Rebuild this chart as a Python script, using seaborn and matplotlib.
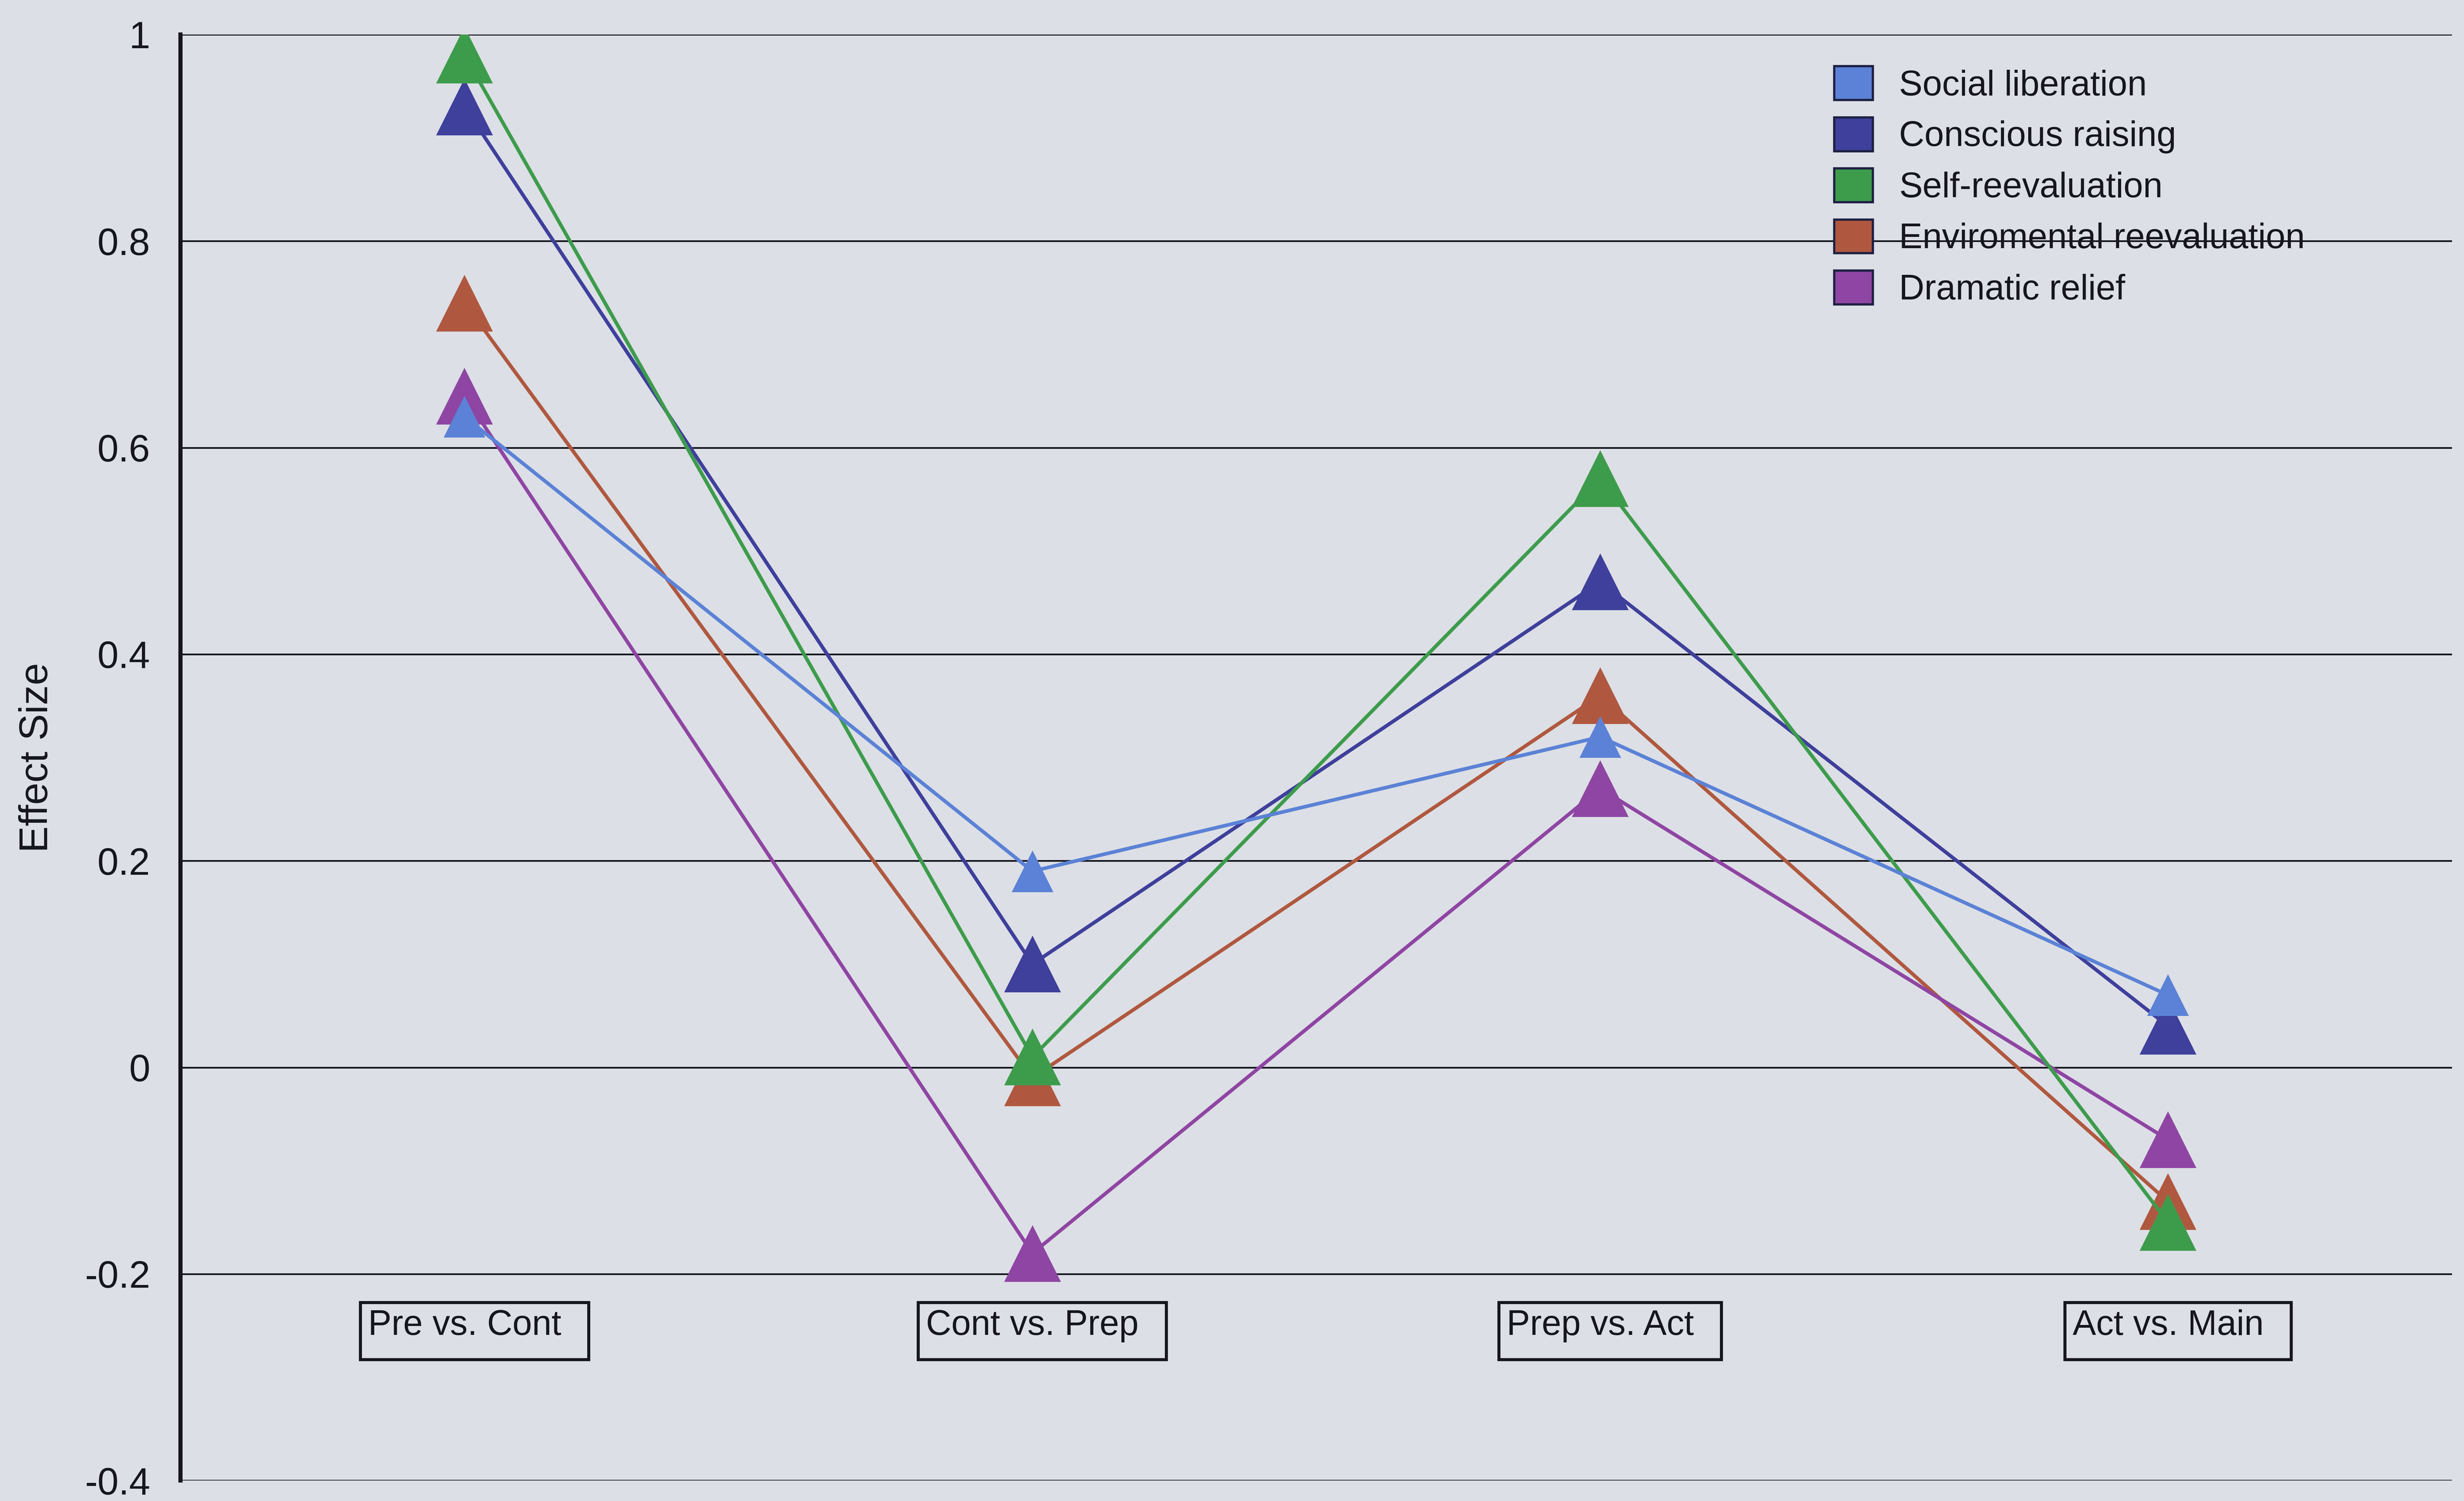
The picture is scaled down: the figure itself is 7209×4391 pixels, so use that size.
import matplotlib
matplotlib.use("Agg")
import matplotlib.pyplot as plt
from matplotlib.patches import Patch, Rectangle
import seaborn as sns
import pandas as pd

# ---- data -------------------------------------------------------------
stages = ["Pre vs. Cont", "Cont vs. Prep", "Prep vs. Act", "Act vs. Main"]

social_liberation = [0.63, 0.19, 0.32, 0.07]
conscious_raising = [0.93, 0.10, 0.47, 0.04]
self_reevaluation = [0.98, 0.01, 0.57, -0.15]
enviromental_reevaluation = [0.74, -0.01, 0.36, -0.13]
dramatic_relief = [0.65, -0.18, 0.27, -0.07]

series_names = ["Social liberation", "Conscious raising", "Self-reevaluation",
                "Enviromental reevaluation", "Dramatic relief"]
series_values = [social_liberation, conscious_raising, self_reevaluation,
                 enviromental_reevaluation, dramatic_relief]

y_ticks = [-0.4, -0.2, 0, 0.2, 0.4, 0.6, 0.8, 1]
y_tick_labels = ["-0.4", "-0.2", "0", "0.2", "0.4", "0.6", "0.8", "1"]
y_label = "Effect Size"

# ---- styling ----------------------------------------------------------
colors = ["#5b82d6", "#3f3f9c", "#3d9c4c", "#b0583f", "#8f45a3"]
marker_sizes = [22, 30, 30, 30, 30]
z_orders = [6, 4, 5, 3, 3]
paper = "#dcdfe5"
ink = "#16161e"

sns.set_style("white")
plt.rcParams["font.family"] = ["Liberation Sans", "DejaVu Sans"]

df = pd.DataFrame({
    "series": [n for n, vals in zip(series_names, series_values) for _ in vals],
    "pos": [i for vals in series_values for i in range(len(vals))],
    "value": [v for vals in series_values for v in vals],
})

fig = plt.figure(figsize=(18.025, 10.9775), dpi=400, facecolor=paper)
ax = fig.add_axes([0.0733, 0.0136, 0.9217, 0.9634], facecolor=paper)

for name, col, ms, zo in zip(series_names, colors, marker_sizes, z_orders):
    sub = df[df["series"] == name]
    sns.lineplot(data=sub, x="pos", y="value", ax=ax, color=col,
                 marker="^", markersize=ms, markeredgewidth=0,
                 markeredgecolor=col, linewidth=1.9, zorder=zo,
                 legend=False, sort=False)

ax.set_xlim(-0.5, len(stages) - 0.5)
ax.set_ylim(-0.4, 1.0)
ax.set_yticks(y_ticks)
ax.set_yticklabels(y_tick_labels)
ax.set_xticks([])
ax.set_xlabel("")
ax.set_ylabel(y_label, fontsize=21, color=ink)
ax.yaxis.set_label_coords(-0.055, 0.5)

ax.yaxis.grid(True, color=ink, linewidth=0.9)
ax.set_axisbelow(True)
for side in ["top", "right", "bottom"]:
    ax.spines[side].set_visible(False)
ax.spines["left"].set_color(ink)
ax.spines["left"].set_linewidth(2.2)
ax.tick_params(axis="y", direction="out", length=7, width=0.9, color=ink,
               labelsize=20, labelcolor=ink, pad=9)

# boxed category labels
cat_texts = []
for i, lab in enumerate(stages):
    t = ax.text(i, -0.25, lab, ha="center", va="center", fontsize=18.5,
                color=ink, zorder=7)
    cat_texts.append(t)

legend_handles = [Patch(facecolor=c, edgecolor="#1e2044", linewidth=1.2,
                        label=n) for n, c in zip(series_names, colors)]
leg = ax.legend(handles=legend_handles, loc="upper left",
                bbox_to_anchor=(0.714, 1.0), frameon=False, fontsize=18.5,
                handlelength=1.1, handleheight=1.1, handletextpad=0.75,
                labelspacing=0.42)
for txt in leg.get_texts():
    txt.set_color(ink)

fig.canvas.draw()
renderer = fig.canvas.get_renderer()
to_fig = fig.transFigure.inverted()
pad_l, pad_r, pad_t, pad_b = 23, 80, 20, 50
for t in cat_texts:
    bb = t.get_window_extent(renderer)
    x0, y0 = to_fig.transform((bb.x0 - pad_l, bb.y0 - pad_b))
    x1, y1 = to_fig.transform((bb.x1 + pad_r, bb.y1 + pad_t))
    fig.add_artist(Rectangle((x0, y0), x1 - x0, y1 - y0,
                             transform=fig.transFigure, fill=False,
                             edgecolor=ink, linewidth=1.6, zorder=7))

fig.savefig("out.png", dpi=400, facecolor=paper)
